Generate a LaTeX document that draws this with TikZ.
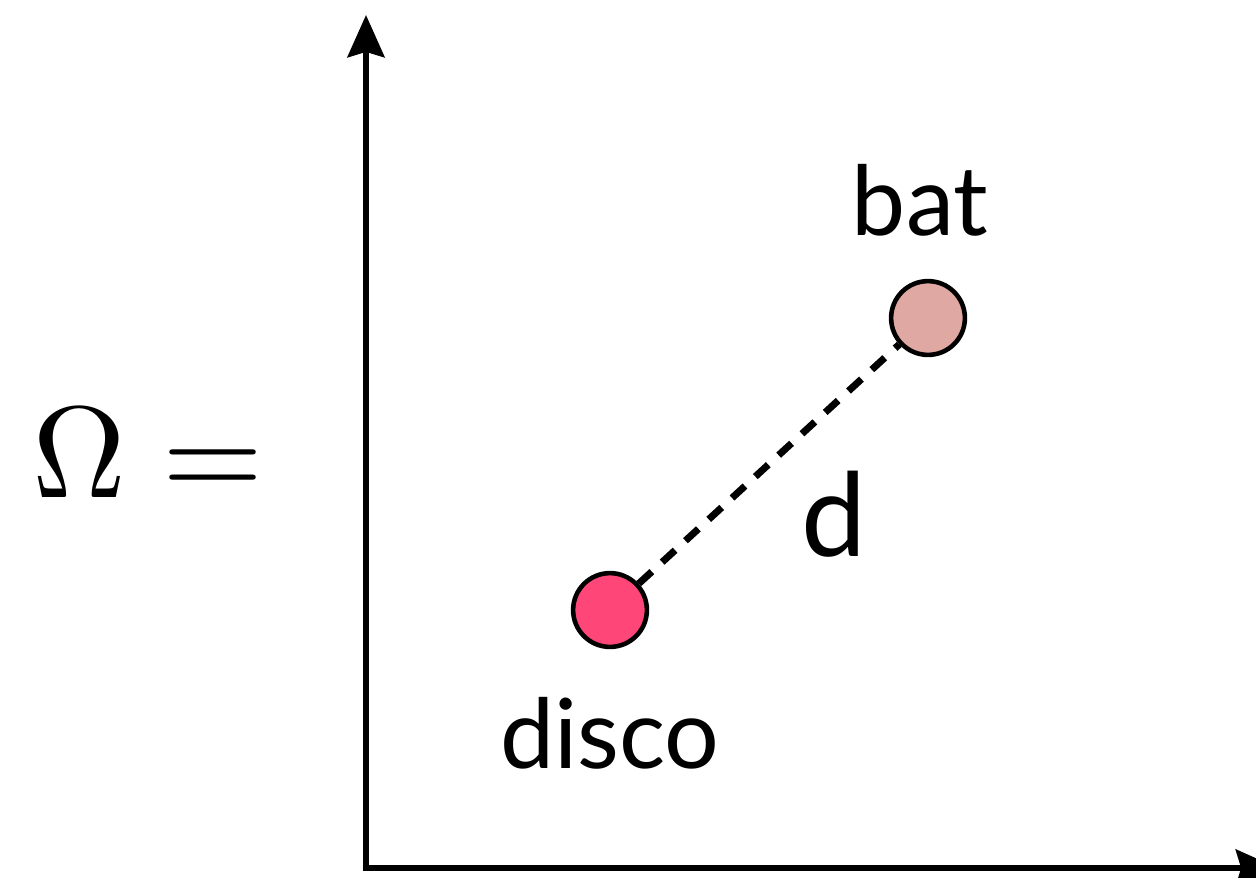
\documentclass[tikz,border=0pt]{standalone}
\usepackage{fontspec}
\setsansfont{Lato}
\usetikzlibrary{arrows.meta}
\definecolor{discocol}{HTML}{FF4679}
\definecolor{batcol}{HTML}{E0A8A2}
\tikzset{
  axis/.style={line width=3.4pt, -{Stealth[length=24pt,width=21pt,inset=3pt]}},
  pt/.style={circle, draw=black, line width=2.6pt, minimum size=42pt, inner sep=0pt},
  lbl/.style={font=\sffamily\fontsize{55}{60}\selectfont, inner sep=0pt},
}
\begin{document}
\begin{tikzpicture}[x=0.02cm,y=-0.02cm]
\useasboundingbox (0,0) rectangle (1256,877);
\coordinate (o) at (366,868);
\coordinate (ytop) at (366,15);
\coordinate (xend) at (1278,868);
\draw[axis] (o) -- (ytop);
\draw[axis] ([xshift=-1.7pt]o) -- (xend);
\node[pt, fill=discocol] (disco) at (610,610) {};
\node[pt, fill=batcol] (bat) at (928,318) {};
\draw[line width=4pt, dash pattern=on 10pt off 8pt] (disco) -- (bat);
\node[lbl, anchor=base] (batl) at (920,235) {bat};
\node[lbl, anchor=base] (discol) at (610,768) {disco};
\node[font=\sffamily\fontsize{66}{70}\selectfont, inner sep=0pt, anchor=base] (dl) at (834,556) {d};
\node[inner sep=0pt, anchor=base] (om) at (148,497) {\scalebox{7.4}{$\Omega =$}};
\end{tikzpicture}
\end{document}
